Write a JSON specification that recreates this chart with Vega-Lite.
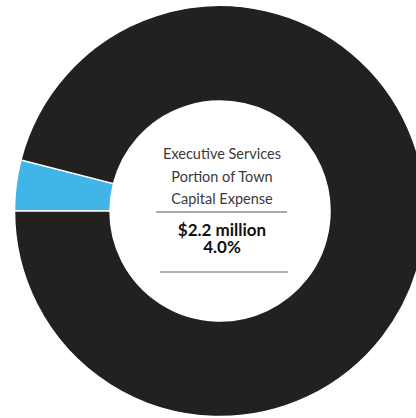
{
  "$schema": "https://vega.github.io/schema/vega-lite/v6.json",
  "width": 392,
  "height": 414,
  "padding": {"left": 24, "top": 4, "right": 0, "bottom": 0},
  "autosize": {"type": "none"},
  "background": "white",
  "config": {"view": {"stroke": null}},
  "layer": [
    {
      "data": {"values": [
        {"category": "Executive Services", "value": 4.0, "order": 1},
        {"category": "Rest of Town Capital Expense", "value": 96.0, "order": 2}
      ]},
      "mark": {"type": "arc", "innerRadius": 110, "outerRadius": 205.5, "stroke": "white", "strokeWidth": 1.5},
      "encoding": {
        "theta": {"field": "value", "type": "quantitative", "stack": true, "scale": {"range": [4.712389, 10.995574]}},
        "order": {"field": "order", "type": "quantitative"},
        "color": {"field": "category", "type": "nominal", "legend": null,
          "scale": {"domain": ["Executive Services", "Rest of Town Capital Expense"], "range": ["#41b6e6", "#222120"]}}
      }
    },
    {
      "data": {"values": [{"label": "Executive Services\nPortion of Town\nCapital Expense"}]},
      "mark": {"type": "text", "x": 198, "y": 155, "align": "center", "baseline": "alphabetic", "font": "Lato", "fontSize": 14.5, "color": "#3a3a3a", "lineBreak": "\n", "lineHeight": 22.5},
      "encoding": {"text": {"field": "label"}}
    },
    {
      "data": {"values": [{"label": "$2.2 million\n4.0%"}]},
      "mark": {"type": "text", "x": 198, "y": 232, "align": "center", "baseline": "alphabetic", "font": "Lato", "fontSize": 17, "fontWeight": "bold", "color": "#111111", "lineBreak": "\n", "lineHeight": 17},
      "encoding": {"text": {"field": "label"}}
    },
    {
      "data": {"values": [{"rule": "top"}]},
      "mark": {"type": "rule", "color": "#555555", "strokeWidth": 1},
      "encoding": {"x": {"value": 132}, "x2": {"value": 263}, "y": {"value": 208}}
    },
    {
      "data": {"values": [{"rule": "bottom"}]},
      "mark": {"type": "rule", "color": "#9a9a9a", "strokeWidth": 1.5},
      "encoding": {"x": {"value": 136}, "x2": {"value": 264}, "y": {"value": 268}}
    }
  ]
}
